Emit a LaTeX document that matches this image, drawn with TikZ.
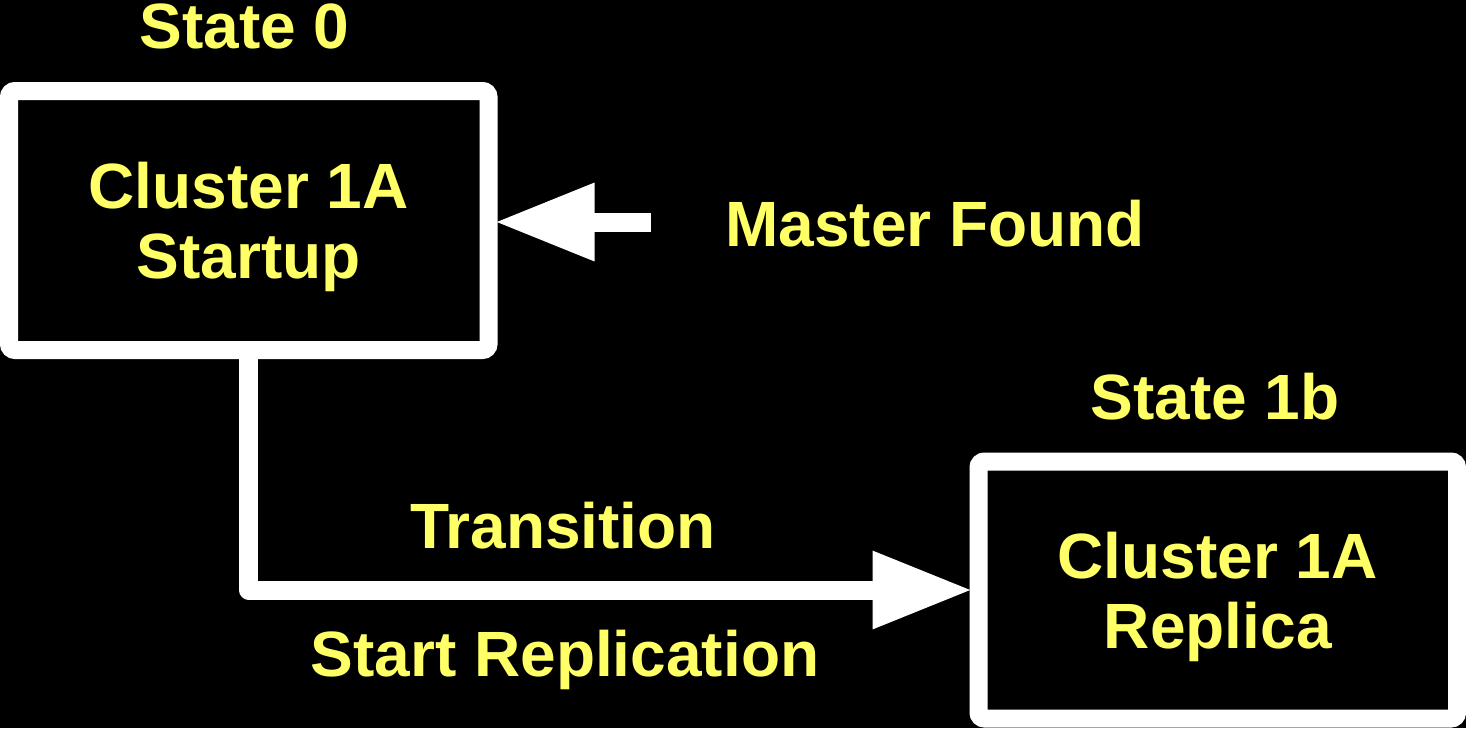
\documentclass[tikz,border=0pt]{standalone}
\usepackage{fontspec}
\setmainfont{Liberation Sans}
\usepackage{tikz}
\usetikzlibrary{arrows.meta}

\definecolor{labelyellow}{RGB}{255,255,102}

\begin{document}
\begin{tikzpicture}[
        x=0.5pt, y=-0.5pt,
        state/.style={rectangle, draw=white, line width=9pt, rounded corners=3pt, fill=black, text=labelyellow, align=center, text depth=0pt, inner sep=0pt, font=\fontsize{32}{35}\selectfont\bfseries},
        caption/.style={text=labelyellow, anchor=base, inner sep=0pt, font=\fontsize{32}{35}\selectfont\bfseries},
        link/.style={draw=white, line width=9.5pt, line join=round, shorten >=-1.5pt, -{Triangle[length=50pt, width=36.5pt]}}
        ]

        % Background
        \path[use as bounding box, fill=black] (0,0) rectangle (1466,728);

        % States
        \node[state, minimum width=239.75pt, minimum height=129.5pt] (startup) at (248.75,220.5) {Cluster 1A\\Startup};
        \node[state, minimum width=239.25pt, minimum height=128.5pt] (replica) at (1217.75,590) {Cluster 1A\\Replica};

        % Captions
        \node[caption] (state0) at (244.5,48) {State 0};
        \node[caption] (state1b) at (1215,419) {State 1b};
        \node[caption] (masterfound) at (935,246) {Master Found};
        \node[caption] (transition) at (563,548) {Transition};
        \node[caption] (startrepl) at (565,676) {Start Replication};

        % Links
        \coordinate (masterfoot) at (651,222);
        \draw[link] (masterfoot) -- (masterfoot -| startup.east);
        \draw[link] (startup.south) |- (replica.west);

    \end{tikzpicture}
\end{document}
